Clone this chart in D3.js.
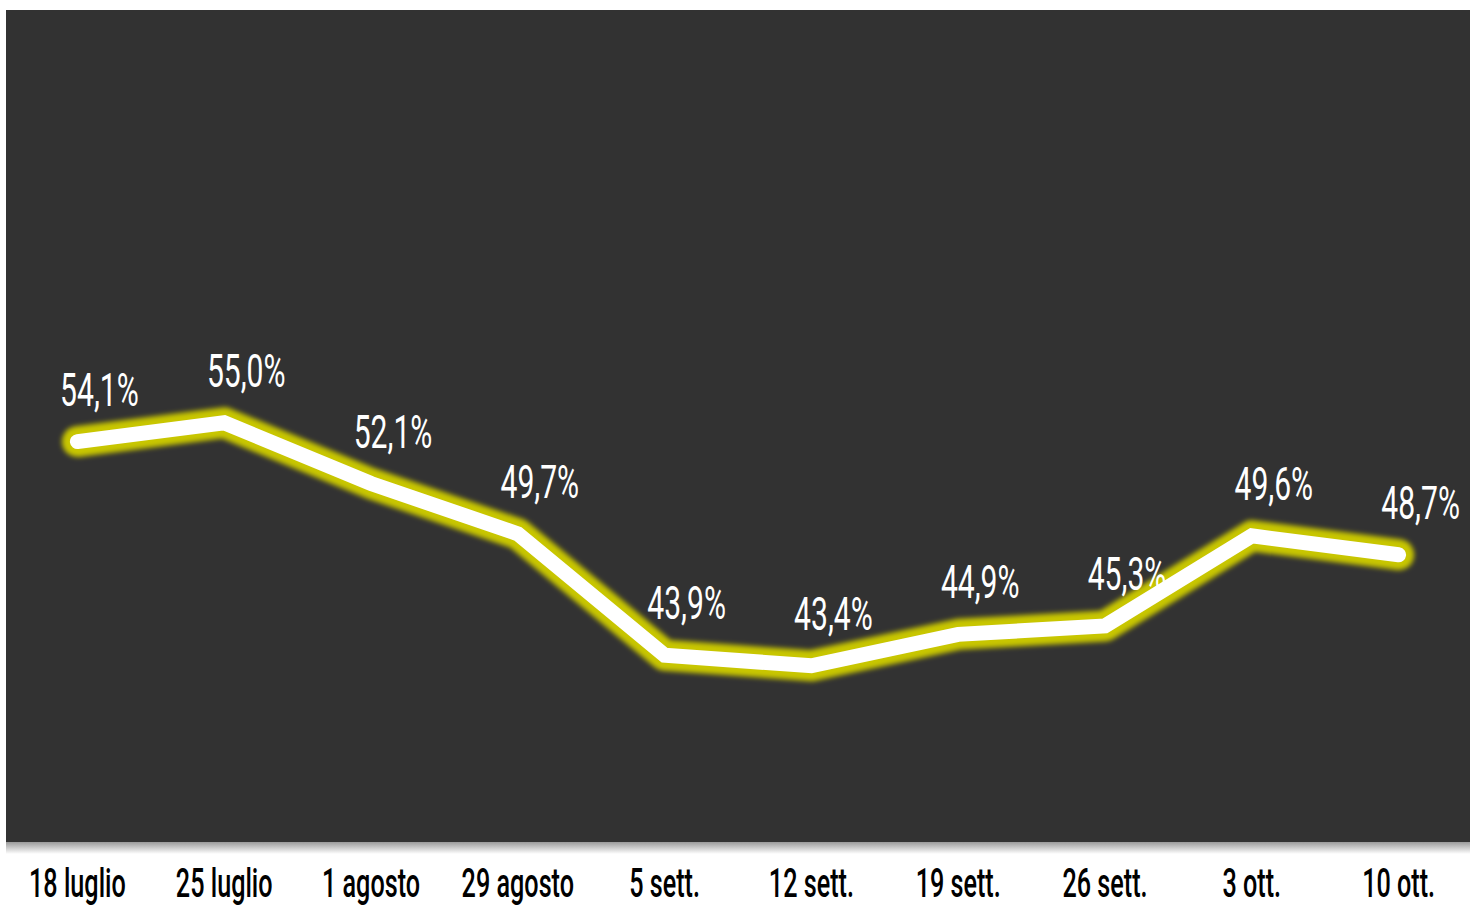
<!DOCTYPE html>
<html>
<head>
<meta charset="utf-8">
<script src="https://cdn.jsdelivr.net/npm/d3@7/dist/d3.min.js"></script>
<style>
  html, body { margin: 0; padding: 0; background: #fff; }
  svg { display: block; }
</style>
</head>
<body>
<svg width="1470" height="908"></svg>
<script>
var categories = ["18 luglio", "25 luglio", "1 agosto", "29 agosto", "5 sett.", "12 sett.", "19 sett.", "26 sett.", "3 ott.", "10 ott."];
var values = [54.1, 55.0, 52.1, 49.7, 43.9, 43.4, 44.9, 45.3, 49.6, 48.7];

function chart() {
  var svg = d3.select("svg"),
    width = +svg.attr("width"),
    height = +svg.attr("height");

  var it = d3.formatLocale({ decimal: ",", thousands: ".", grouping: [3], currency: ["", "€"] });
  var fmt = it.format(".1f");

  var x = d3.scalePoint()
    .domain(categories)
    .range([4, 1472])
    .padding(0.5);

  var y = d3.scaleLinear()
    .domain([40, 60])
    .range([737, 318]);

  var defs = svg.append("defs");

  var shadow = defs.append("linearGradient")
    .attr("id", "shadow")
    .attr("x1", 0).attr("y1", 0).attr("x2", 0).attr("y2", 1);
  shadow.append("stop").attr("offset", "0%").attr("stop-color", "#9a9a9a");
  shadow.append("stop").attr("offset", "100%").attr("stop-color", "#ffffff");

  var glow = defs.append("filter")
    .attr("id", "glow")
    .attr("x", "-10%").attr("y", "-50%")
    .attr("width", "120%").attr("height", "200%");
  glow.append("feGaussianBlur").attr("stdDeviation", 2.5);

  // panel
  svg.append("rect")
    .attr("x", 6).attr("y", 10)
    .attr("width", width - 6).attr("height", 832)
    .attr("fill", "#323232");

  svg.append("rect")
    .attr("x", 6).attr("y", 842)
    .attr("width", width - 6).attr("height", 12)
    .attr("fill", "url(#shadow)");

  var line = d3.line()
    .x(function (d, i) { return x(categories[i]); })
    .y(function (d) { return y(d); });

  svg.append("path")
    .datum(values)
    .attr("d", line)
    .attr("fill", "none")
    .attr("stroke", "#c8c600")
    .attr("stroke-width", 31)
    .attr("stroke-linejoin", "round")
    .attr("stroke-linecap", "round")
    .attr("filter", "url(#glow)");

  svg.append("path")
    .datum(values)
    .attr("d", line)
    .attr("fill", "none")
    .attr("stroke", "#ffffff")
    .attr("stroke-width", 15)
    .attr("stroke-linejoin", "miter")
    .attr("stroke-linecap", "round");

  // value labels
  svg.append("g")
    .selectAll("g")
    .data(values)
    .enter()
    .append("g")
    .attr("transform", function (d, i) {
      return "translate(" + (x(categories[i]) + 22) + "," + (y(d) - 36) + ") scale(0.64,1)";
    })
    .append("text")
    .attr("text-anchor", "middle")
    .attr("font-family", "Roboto, sans-serif")
    .style("font-size", "47px")
    .style("fill", "#ffffff")
    .text(function (d) { return fmt(d) + "%"; });

  // category labels
  svg.append("g")
    .selectAll("g")
    .data(categories)
    .enter()
    .append("g")
    .attr("transform", function (d) {
      return "translate(" + x(d) + ",897) scale(0.63,1)";
    })
    .append("text")
    .attr("text-anchor", "middle")
    .attr("font-family", "Roboto, sans-serif")
    .attr("font-weight", 500)
    .style("font-size", "40px")
    .style("fill", "#000000")
    .text(function (d) { return d; });
}
chart();
</script>
</body>
</html>
